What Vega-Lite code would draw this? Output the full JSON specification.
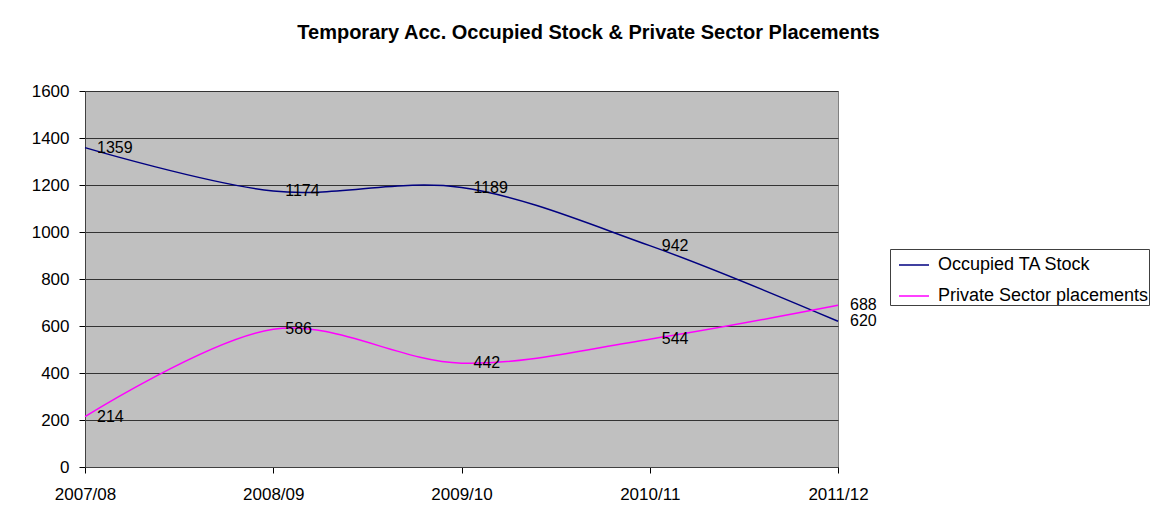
{
  "$schema": "https://vega.github.io/schema/vega-lite/v6.json",
  "width": 753,
  "height": 376,
  "autosize": "none",
  "padding": {"left": 85, "top": 91, "right": 319, "bottom": 57},
  "background": "white",
  "title": {
    "text": "Temporary Acc. Occupied Stock & Private Sector Placements",
    "font": "Liberation Sans",
    "fontSize": 20,
    "fontWeight": "bold",
    "color": "black",
    "anchor": "middle",
    "frame": "group",
    "dx": 127,
    "offset": 39
  },
  "data": {
    "values": [
      {"year": "2007/08", "series": "Occupied TA Stock", "value": 1359},
      {"year": "2008/09", "series": "Occupied TA Stock", "value": 1174},
      {"year": "2009/10", "series": "Occupied TA Stock", "value": 1189},
      {"year": "2010/11", "series": "Occupied TA Stock", "value": 942},
      {"year": "2011/12", "series": "Occupied TA Stock", "value": 620},
      {"year": "2007/08", "series": "Private Sector placements", "value": 214},
      {"year": "2008/09", "series": "Private Sector placements", "value": 586},
      {"year": "2009/10", "series": "Private Sector placements", "value": 442},
      {"year": "2010/11", "series": "Private Sector placements", "value": 544},
      {"year": "2011/12", "series": "Private Sector placements", "value": 688}
    ]
  },
  "encoding": {
    "x": {
      "field": "year",
      "type": "ordinal",
      "scale": {"type": "point", "padding": 0},
      "axis": {
        "title": null,
        "labelAngle": 0,
        "labelFont": "Liberation Sans",
        "labelFontSize": 17,
        "labelColor": "black",
        "labelPadding": 13,
        "tickSize": 6,
        "tickColor": "black",
        "domainColor": "#404040",
        "grid": false
      }
    },
    "y": {
      "field": "value",
      "type": "quantitative",
      "scale": {"domain": [0, 1600], "nice": false},
      "axis": {
        "title": null,
        "format": "d",
        "values": [0, 200, 400, 600, 800, 1000, 1200, 1400, 1600],
        "labelFont": "Liberation Sans",
        "labelFontSize": 17,
        "labelColor": "black",
        "labelPadding": 10,
        "tickSize": 6,
        "tickColor": "black",
        "domainColor": "#404040",
        "grid": true,
        "gridColor": "#333333",
        "gridOpacity": 1,
        "gridWidth": 1
      }
    },
    "color": {
      "field": "series",
      "type": "nominal",
      "scale": {
        "domain": ["Occupied TA Stock", "Private Sector placements"],
        "range": ["#000080", "#FF00FF"]
      },
      "legend": {
        "title": null,
        "orient": "none",
        "legendX": 805,
        "legendY": 158,
        "strokeColor": "#404040",
        "fillColor": "white",
        "padding": 0,
        "symbolType": "stroke",
        "symbolSize": 900,
        "symbolOffset": 8,
        "symbolStrokeWidth": 1.5,
        "labelFont": "Liberation Sans",
        "labelFontSize": 18,
        "labelColor": "black",
        "labelOffset": 8,
        "rowPadding": 6,
        "labelLimit": 400
      }
    }
  },
  "layer": [
    {
      "mark": {"type": "line", "interpolate": "cardinal", "strokeWidth": 1.5}
    },
    {
      "mark": {
        "type": "text",
        "align": "left",
        "baseline": "middle",
        "dx": 12,
        "font": "Liberation Sans",
        "fontSize": 16,
        "color": "black"
      },
      "encoding": {
        "text": {"field": "value", "type": "quantitative"},
        "color": {"value": "black"}
      }
    }
  ],
  "config": {
    "view": {"fill": "#C0C0C0", "stroke": "#808080", "strokeWidth": 1}
  }
}
